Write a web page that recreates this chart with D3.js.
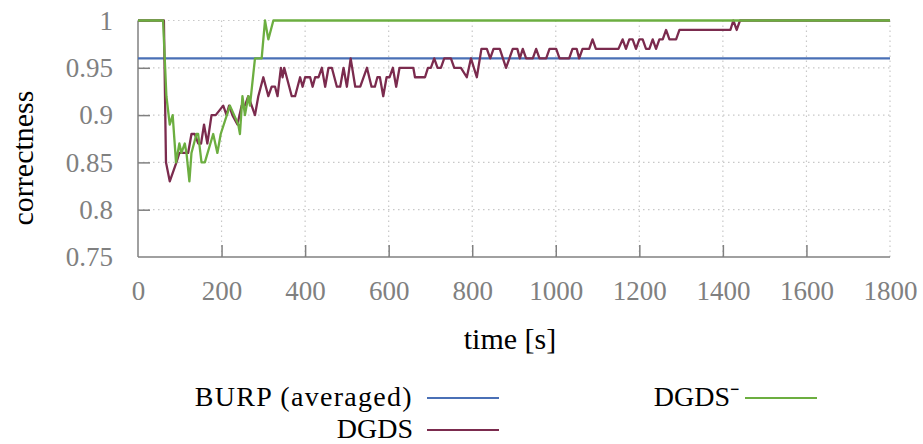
<!DOCTYPE html>
<html>
<head>
<meta charset="utf-8">
<script src="https://cdn.jsdelivr.net/npm/d3@7"></script>
<style>
	body {margin:0;background:#ffffff;}
	.tickLabel {font-family:'Liberation Serif','Times New Roman',serif;font-size:27px;fill:#808080;}
	.axisTitle {font-family:'Liberation Serif','Times New Roman',serif;font-size:30px;fill:#000000;}
	.legendLabel {font-family:'Liberation Serif','Times New Roman',serif;font-size:28px;fill:#000000;}
</style>
</head>
<body>
<script>
var timeTicks = [0,200,400,600,800,1000,1200,1400,1600,1800];
var correctnessTicks = [0.75,0.8,0.85,0.9,0.95,1];

var burpTime = [0,1800];
var burpValue = [0.96,0.96];

var dgdsTime = [0,62,67,76,92,99,120,128,136,144,151,158,166,176,186,204,212,218,226,238,248,256,264,272,280,288,300,312,320,328,334,342,346,350,368,376,388,394,400,406,412,418,424,432,440,448,456,464,476,484,492,500,509,520,532,548,559,567,573,579,587,595,602,610,618,626,659,663,687,694,701,709,717,725,733,749,757,773,787,797,811,822,835,843,851,866,881,897,908,914,921,929,945,953,961,977,985,1001,1009,1032,1040,1050,1056,1064,1080,1088,1096,1150,1160,1168,1176,1184,1192,1200,1208,1216,1224,1232,1240,1248,1256,1264,1272,1288,1296,1418,1425,1433,1441,1800];
var dgdsValue = [1,1,0.85,0.83,0.85,0.86,0.86,0.88,0.88,0.87,0.87,0.89,0.87,0.90,0.90,0.91,0.90,0.91,0.90,0.89,0.91,0.91,0.92,0.91,0.90,0.92,0.94,0.92,0.93,0.93,0.92,0.95,0.94,0.95,0.92,0.92,0.94,0.93,0.94,0.94,0.94,0.93,0.94,0.94,0.95,0.93,0.95,0.95,0.93,0.93,0.95,0.93,0.96,0.93,0.93,0.95,0.93,0.93,0.94,0.94,0.92,0.94,0.94,0.95,0.93,0.95,0.95,0.94,0.94,0.95,0.95,0.96,0.95,0.95,0.96,0.96,0.95,0.95,0.94,0.96,0.94,0.97,0.97,0.96,0.97,0.97,0.95,0.97,0.97,0.96,0.97,0.96,0.96,0.97,0.96,0.96,0.97,0.97,0.96,0.96,0.97,0.97,0.96,0.97,0.97,0.98,0.97,0.97,0.98,0.97,0.98,0.98,0.97,0.98,0.98,0.97,0.97,0.98,0.97,0.98,0.98,0.99,0.98,0.98,0.99,0.99,1,0.99,1,1];

var dgdsMinusTime = [0,60,68,76,83,91,99,104,112,116,123,128,140,144,152,160,180,190,198,220,240,244,250,256,264,268,280,296,304,312,324,1800];
var dgdsMinusValue = [1,1,0.92,0.89,0.90,0.85,0.87,0.86,0.87,0.86,0.83,0.86,0.88,0.88,0.85,0.85,0.88,0.86,0.88,0.91,0.89,0.88,0.92,0.90,0.92,0.91,0.96,0.96,1,0.98,1,1];

var seriesNames = ['BURP (averaged)','DGDS','DGDS\u207B'];
var seriesColors = ['#4a70b6','#7b2b4e','#6cae40'];

function zipSeries(times,values) {
	return times.map(function(t,i){return {t:t,v:values[i]};});
}
var series = [zipSeries(burpTime,burpValue),zipSeries(dgdsTime,dgdsValue),zipSeries(dgdsMinusTime,dgdsMinusValue)];

var svg = d3.select('body').append('svg').attr('width',923).attr('height',444);

var xScale = d3.scaleLinear().domain([0,1800]).range([138,890]);
var yScale = d3.scaleLinear().domain([0.75,1]).range([257,20.5]);

//Grid
var gridG = svg.append('g').attr('id','grid');
gridG.selectAll('line.vgrid').data(timeTicks.slice(1)).enter()
	.append('line').attr('class','vgrid')
	.attr('x1',function(d){return xScale(d);}).attr('x2',function(d){return xScale(d);})
	.attr('y1',yScale(1)).attr('y2',yScale(0.75))
	.attr('stroke','#c8c8c8').attr('stroke-width',1.2).attr('stroke-dasharray','1.5,3.5');
gridG.selectAll('line.hgrid').data(correctnessTicks.slice(1)).enter()
	.append('line').attr('class','hgrid')
	.attr('x1',xScale(0)).attr('x2',xScale(1800))
	.attr('y1',function(d){return yScale(d);}).attr('y2',function(d){return yScale(d);})
	.attr('stroke','#c8c8c8').attr('stroke-width',1.2).attr('stroke-dasharray','1.5,3.5');

//Axes
var yAxis = d3.axisLeft(yScale).tickValues(correctnessTicks).tickSize(-12).tickPadding(25)
	.tickFormat(function(d){return d3.format('')(+d.toFixed(2));});
var yAxisG = svg.append('g').attr('id','yAxis').attr('transform','translate('+xScale(0)+',0)').call(yAxis);
var xAxis = d3.axisBottom(xScale).tickValues(timeTicks).tickSize(-12).tickPadding(24).tickFormat(d3.format('d'));
var xAxisG = svg.append('g').attr('id','xAxis').attr('transform','translate(0,'+yScale(0.75)+')').call(xAxis);
[yAxisG,xAxisG].forEach(function(g){
	g.select('.domain').attr('stroke','#808080').attr('stroke-width',1.5);
	g.selectAll('.tick line').attr('stroke','#808080').attr('stroke-width',1.5);
	g.selectAll('.tick text').attr('class','tickLabel').attr('fill',null);
	g.attr('font-family',null).attr('font-size',null);
});
yAxisG.select('.domain').attr('d','M0,'+yScale(0.75)+'V'+yScale(1));
xAxisG.select('.domain').attr('d','M'+xScale(0)+',0H'+xScale(1800));
xAxisG.selectAll('.tick').filter(function(d){return d === 0 || d === 1800;}).select('line').remove();
yAxisG.selectAll('.tick').filter(function(d){return d === 0.75;}).select('line').remove();

svg.append('text').classed('axisTitle',true).attr('text-anchor','middle')
	.attr('transform','translate(33,158),rotate(-90)').text('correctness');
svg.append('text').classed('axisTitle',true).attr('text-anchor','middle')
	.attr('x',510).attr('y',349).text('time [s]');

//Lines
var line = d3.line().x(function(d){return xScale(d.t);}).y(function(d){return yScale(d.v);});
svg.append('g').attr('id','lines').selectAll('path').data(series).enter()
	.append('path')
	.attr('d',function(d){return line(d);})
	.attr('fill','none')
	.attr('stroke',function(d,i){return seriesColors[i];})
	.attr('stroke-width',2.3)
	.attr('stroke-linejoin','round');

//Legend: text end x, line y, line start offset
var legendPos = [[413,398,14],[413,430,14],[739,398,6]];
var legendG = svg.append('g').attr('id','legend');
var legendItem = legendG.selectAll('g').data(seriesNames).enter().append('g')
	.attr('transform',function(d,i){return 'translate('+legendPos[i][0]+','+legendPos[i][1]+')';});
legendItem.append('text').classed('legendLabel',true).attr('text-anchor','end').attr('y',8)
	.style('letter-spacing',function(d,i){return i === 0 ? '1.3px' : null;})
	.text(function(d){return d;});
legendItem.append('line')
	.attr('x1',function(d,i){return legendPos[i][2];})
	.attr('x2',function(d,i){return legendPos[i][2]+72;})
	.attr('y1',0).attr('y2',0)
	.attr('stroke',function(d,i){return seriesColors[i];}).attr('stroke-width',2);
</script>
</body>
</html>
